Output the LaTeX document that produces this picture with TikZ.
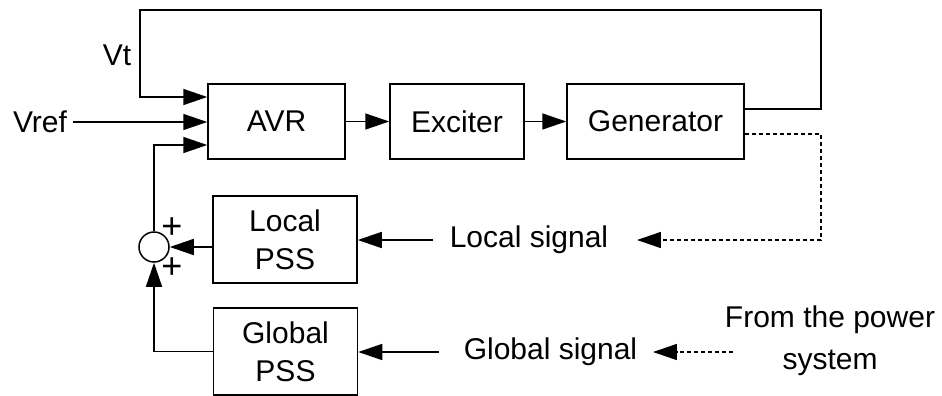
\documentclass[tikz,border=0pt]{standalone}
\usepackage{fontspec}
\setmainfont{Liberation Sans}
\usetikzlibrary{arrows.meta, positioning}

\begin{document}
\begin{tikzpicture}[x=0.5pt, y=-0.5pt, line width=0.75pt,
  >={Triangle[length=12pt,width=8pt]},
  blk/.style={draw, minimum height=37.5pt, align=center, font=\fontsize{15}{19}\selectfont},
  lbl/.style={align=center, font=\fontsize{15}{21}\selectfont},
  dsh/.style={dash pattern=on 2pt off 1.5pt}]
  \useasboundingbox (0,0) rectangle (942,396);
  % main chain
  \node[blk, minimum width=68.5pt] (avr) at (276.5,121.5) {AVR};
  \node[blk, minimum width=67pt] (exc) at (457,121.5) {Exciter};
  \node[blk, minimum width=88.5pt] (gen) at (655.5,121.5) {Generator};
  \draw[->] (avr) -- (exc);
  \draw[->] (exc) -- (gen);
  % stabilisers
  \node[blk, minimum width=72pt, minimum height=43.5pt] (lpss) at (285,239.5) {Local\\PSS};
  \node[blk, minimum width=72pt, minimum height=43.5pt] (gpss) at (285.5,351.5) {Global\\PSS};
  \node[draw, circle, minimum size=15pt, inner sep=0pt] (sum) at (154,247) {};
  \node[lbl, font=\fontsize{18}{21}\selectfont] (plusa) at (172,228) {+};
  \node[lbl, font=\fontsize{18}{21}\selectfont] (plusb) at (172,268) {+};
  % labels
  \node[lbl, inner sep=2.5pt] (vref) at (40,122) {Vref};
  \node[lbl] (vt) at (117,55) {Vt};
  \node[lbl, inner xsep=0pt] (locsig) at (529,240) {Local signal};
  \node[lbl, inner xsep=0pt] (glosig) at (550.5,352) {Global signal};
  \node[lbl] (from) at (830,341) {From the power\\system};
  \coordinate (tr) at (821,10);
  \coordinate (tl) at (140,10);
  \coordinate (dr) at (821,240);
  \coordinate (pwr) at (733,352);
  % feedback and inputs
  \draw[->] ([yshift=6.25pt]gen.east) -| (tr) -- (tl) |- ([yshift=12.25pt]avr.west);
  \draw[->] (vref.east) -- (vref.east -| avr.west);
  \draw[->] (sum.north) |- ([yshift=-11.75pt]avr.west);
  \draw[->] (lpss.west |- sum.east) -- (sum.east);
  \draw[->] (gpss.west) -| (sum.south);
  \draw[->, shorten <=8pt] (locsig.west) -- (locsig.west -| lpss.east);
  \draw[->, shorten <=12pt] (glosig.west) -- (glosig.west -| gpss.east);
  \draw[dsh, ->, shorten >=14pt] ([yshift=-6.25pt]gen.east) -| (dr) -- (locsig.east);
  \draw[dsh, ->, shorten >=7.5pt] (pwr) -- (glosig.east);
\end{tikzpicture}
\end{document}
